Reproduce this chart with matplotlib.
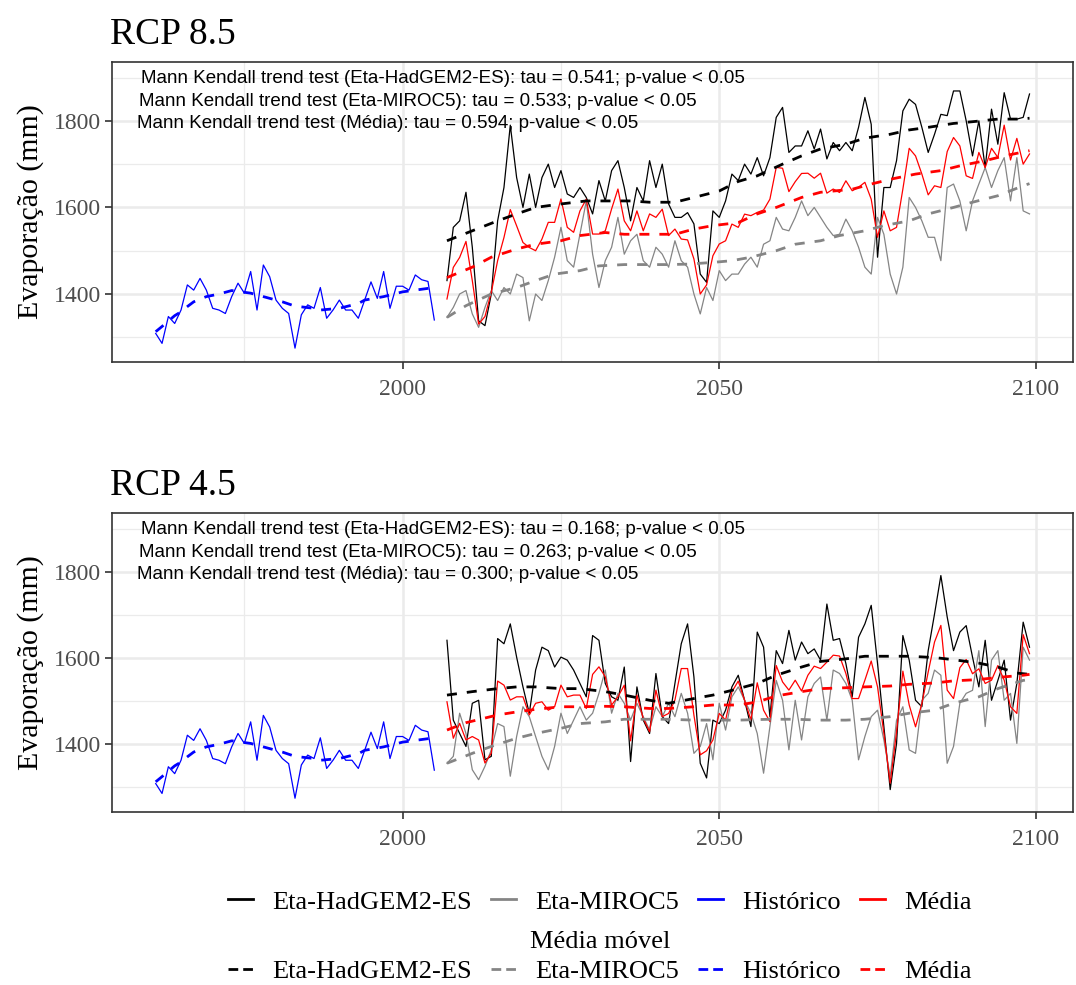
import numpy as np
import matplotlib.pyplot as plt
from matplotlib.lines import Line2D
from matplotlib.ticker import FixedLocator

plt.rcParams['font.family'] = ['Liberation Serif', 'DejaVu Serif']

# ---- data ----
years_hist = np.arange(1961, 2006)
years_proj = np.arange(2007, 2100)

historico = [1309, 1286, 1348, 1332, 1363, 1421, 1409, 1436, 1409, 1367,
             1363, 1355, 1394, 1425, 1402, 1452, 1363, 1467, 1440, 1386,
             1367, 1355, 1275, 1352, 1375, 1367, 1415, 1344, 1363, 1386,
             1363, 1363, 1344, 1386, 1428, 1390, 1452, 1367, 1418, 1418,
             1409, 1444, 1433, 1429, 1340]
mm_hist_yr = [1961, 1962, 1964, 1965, 1966, 1967, 1969, 1971, 1973, 1976, 1977, 1979,
              1981, 1983, 1986, 1987, 1990, 1993, 1994, 1997, 2000, 2003, 2005]
mm_hist = [1313, 1325, 1350, 1359, 1371, 1382, 1394, 1400, 1408, 1402, 1398, 1390,
           1382, 1372, 1367, 1363, 1367, 1378, 1386, 1394, 1405, 1411, 1415]

# RCP 8.5
had85 = [1431, 1554, 1569, 1635, 1508, 1338, 1327, 1400, 1569, 1646,
         1790, 1669, 1600, 1677, 1600, 1669, 1700, 1646, 1685, 1631,
         1623, 1646, 1623, 1585, 1662, 1615, 1685, 1708, 1646, 1569,
         1646, 1615, 1708, 1646, 1700, 1608, 1577, 1577, 1588, 1562,
         1446, 1427, 1592, 1577, 1615, 1677, 1662, 1700, 1677, 1715,
         1673, 1715, 1808, 1831, 1727, 1742, 1742, 1777, 1735, 1781,
         1712, 1750, 1731, 1750, 1731, 1785, 1854, 1792, 1485, 1646,
         1646, 1708, 1823, 1850, 1838, 1785, 1727, 1769, 1815, 1812,
         1869, 1869, 1800, 1719, 1800, 1692, 1827, 1746, 1865, 1804,
         1804, 1808, 1862]
mir85 = [1346, 1369, 1400, 1408, 1354, 1323, 1369, 1408, 1385, 1415,
         1400, 1446, 1438, 1338, 1400, 1385, 1431, 1485, 1554, 1477,
         1462, 1538, 1615, 1492, 1415, 1477, 1508, 1577, 1492, 1523,
         1538, 1477, 1462, 1508, 1492, 1462, 1523, 1477, 1462, 1400,
         1354, 1415, 1385, 1454, 1431, 1446, 1446, 1469, 1485, 1462,
         1515, 1523, 1577, 1550, 1546, 1577, 1615, 1581, 1600, 1577,
         1554, 1535, 1538, 1573, 1546, 1508, 1462, 1446, 1577, 1538,
         1446, 1400, 1462, 1623, 1600, 1569, 1531, 1531, 1477, 1646,
         1654, 1615, 1546, 1615, 1654, 1692, 1646, 1685, 1715, 1615,
         1715, 1592, 1585]
mm_had85_yr = [2007, 2011, 2015, 2018, 2021, 2025, 2029, 2032, 2036, 2039, 2043, 2046, 2050, 2053,
               2056, 2060, 2063, 2066, 2070, 2073, 2077, 2080, 2083, 2087, 2090, 2094, 2097, 2099]
mm_had85 = [1523, 1546, 1569, 1585, 1600, 1608, 1615, 1615, 1615, 1612, 1612, 1623, 1638, 1660,
            1673, 1700, 1719, 1735, 1746, 1760, 1769, 1779, 1785, 1794, 1798, 1804, 1804, 1806]
mm_mir85_yr = [2007, 2010, 2014, 2018, 2021, 2024, 2028, 2031, 2035, 2038, 2042, 2045, 2049, 2052,
               2055, 2059, 2062, 2066, 2069, 2073, 2076, 2080, 2083, 2087, 2090, 2094, 2098, 2099]
mm_mir85 = [1346, 1373, 1400, 1415, 1431, 1446, 1454, 1465, 1468, 1468, 1468, 1469, 1473, 1477,
            1485, 1500, 1515, 1523, 1535, 1546, 1558, 1569, 1585, 1600, 1612, 1627, 1650, 1655]
mm_med85_yr = [2007, 2011, 2014, 2018, 2021, 2025, 2028, 2032, 2035, 2039, 2043, 2046, 2049, 2053,
               2056, 2059, 2063, 2066, 2071, 2074, 2077, 2081, 2085, 2088, 2092, 2095, 2099]
mm_med85 = [1438, 1462, 1485, 1504, 1515, 1523, 1535, 1542, 1538, 1538, 1538, 1550, 1558, 1565,
            1585, 1600, 1623, 1635, 1642, 1654, 1665, 1677, 1685, 1696, 1708, 1719, 1731]
tau85 = ["0.541", "0.533", "0.594"]

# RCP 4.5
had45 = [1641, 1456, 1425, 1395, 1495, 1502, 1364, 1372, 1645, 1633,
         1679, 1602, 1533, 1472, 1572, 1625, 1617, 1579, 1602, 1595,
         1572, 1541, 1510, 1652, 1641, 1541, 1510, 1502, 1579, 1360,
         1533, 1456, 1425, 1564, 1464, 1448, 1541, 1633, 1679, 1556,
         1356, 1322, 1456, 1448, 1479, 1533, 1560, 1502, 1441, 1660,
         1625, 1464, 1617, 1587, 1664, 1595, 1637, 1610, 1621, 1595,
         1725, 1641, 1645, 1587, 1510, 1648, 1679, 1722, 1587, 1441,
         1295, 1402, 1652, 1595, 1502, 1487, 1617, 1702, 1791, 1695,
         1617, 1660, 1675, 1602, 1533, 1641, 1502, 1548, 1595, 1456,
         1541, 1683, 1625]
mir45 = [1356, 1372, 1472, 1425, 1341, 1318, 1349, 1387, 1448, 1441,
         1326, 1418, 1487, 1464, 1418, 1372, 1341, 1395, 1472, 1425,
         1456, 1487, 1456, 1472, 1518, 1572, 1472, 1518, 1495, 1456,
         1495, 1464, 1433, 1487, 1464, 1495, 1464, 1518, 1472, 1379,
         1395, 1448, 1364, 1495, 1433, 1510, 1533, 1502, 1472, 1425,
         1333, 1441, 1548, 1502, 1387, 1502, 1410, 1510, 1541, 1556,
         1456, 1572, 1564, 1541, 1502, 1364, 1418, 1464, 1479, 1410,
         1325, 1456, 1487, 1387, 1379, 1502, 1518, 1572, 1560, 1356,
         1395, 1495, 1518, 1525, 1617, 1441, 1595, 1617, 1502, 1518,
         1402, 1625, 1595]
mm_had45_yr = [2007, 2011, 2015, 2018, 2021, 2025, 2028, 2032, 2035, 2039, 2042, 2046, 2049, 2052,
               2056, 2059, 2063, 2066, 2070, 2073, 2077, 2080, 2084, 2087, 2091, 2094, 2097, 2099]
mm_had45 = [1514, 1522, 1529, 1533, 1533, 1529, 1529, 1522, 1514, 1502, 1495, 1506, 1514, 1525,
            1541, 1560, 1579, 1592, 1598, 1604, 1604, 1604, 1601, 1596, 1588, 1579, 1565, 1562]
mm_mir45_yr = [2007, 2011, 2014, 2018, 2021, 2025, 2028, 2032, 2035, 2039, 2042, 2046, 2049, 2053,
               2058, 2062, 2066, 2070, 2073, 2077, 2080, 2084, 2087, 2091, 2094, 2098, 2099]
mm_mir45 = [1356, 1379, 1395, 1414, 1425, 1437, 1448, 1452, 1458, 1458, 1458, 1456, 1456, 1456,
            1458, 1458, 1456, 1456, 1458, 1464, 1472, 1479, 1495, 1510, 1529, 1548, 1550]
mm_med45_yr = [2007, 2010, 2015, 2018, 2021, 2025, 2028, 2032, 2035, 2039, 2042, 2046, 2049, 2053,
               2056, 2059, 2063, 2066, 2070, 2073, 2077, 2080, 2084, 2087, 2091, 2094, 2098, 2099]
mm_med45 = [1433, 1450, 1468, 1475, 1481, 1487, 1487, 1488, 1487, 1483, 1483, 1487, 1491, 1491,
            1498, 1512, 1522, 1529, 1531, 1533, 1535, 1539, 1542, 1547, 1550, 1555, 1560, 1562]
tau45 = ["0.168", "0.263", "0.300"]

modelos = ["Eta-HadGEM2-ES", "Eta-MIROC5", "Média"]
legend_labels = ["Eta-HadGEM2-ES", "Eta-MIROC5", "Histórico", "Média"]
cores = ["black", "#858585", "blue", "red"]

SOLID_LW = 0.9
DASH_LW = 2.0


def painel(ax, titulo, had, mir, mm_had, mm_mir, mm_med, taus):
    media = (np.array(had) + np.array(mir)) / 2
    ax.plot(years_hist, historico, color="blue", lw=SOLID_LW)
    ax.plot(years_proj, had, color="black", lw=SOLID_LW)
    ax.plot(years_proj, mir, color=cores[1], lw=SOLID_LW)
    ax.plot(years_proj, media, color="red", lw=SOLID_LW)
    ax.plot(mm_hist_yr, mm_hist, color="blue", lw=DASH_LW, dashes=(3.6, 3.6))
    ax.plot(mm_had[0], mm_had[1], color="black", lw=DASH_LW, dashes=(3.6, 3.6))
    ax.plot(mm_mir[0], mm_mir[1], color=cores[1], lw=DASH_LW, dashes=(3.6, 3.6))
    ax.plot(mm_med[0], mm_med[1], color="red", lw=DASH_LW, dashes=(3.6, 3.6))

    for i, (nome, tau) in enumerate(zip(modelos, taus)):
        ax.text(1958.6 - 0.25 * i, 1897 - 52 * i,
                f"Mann Kendall trend test ({nome}): tau = {tau}; p-value < 0.05",
                family=["Liberation Sans", "DejaVu Sans"], fontsize=13.5,
                ha="left", va="center", color="black")

    ax.set_xlim(1954.1, 2105.9)
    ax.set_ylim(1243, 1936)
    ax.xaxis.set_major_locator(FixedLocator([2000, 2050, 2100]))
    ax.xaxis.set_minor_locator(FixedLocator([1975, 2025, 2075]))
    ax.yaxis.set_major_locator(FixedLocator([1400, 1600, 1800]))
    ax.yaxis.set_minor_locator(FixedLocator([1300, 1500, 1700, 1900]))
    ax.grid(which="major", color="#EBEBEB", lw=1.8)
    ax.grid(which="minor", color="#EBEBEB", lw=0.9)
    ax.set_axisbelow(True)
    ax.tick_params(which="major", length=5, width=1.2, color="#333333",
                   labelsize=17, labelcolor="#4D4D4D")
    ax.tick_params(axis="x", pad=7)
    ax.tick_params(axis="y", pad=3)
    ax.tick_params(which="minor", length=0)
    for s in ax.spines.values():
        s.set_color("#333333")
        s.set_linewidth(1.2)
    ax.set_ylabel("Evaporação (mm)", fontsize=21.5, labelpad=7)
    ax.set_title(titulo, fontsize=27, loc="left", x=-0.002, pad=13)


fig = plt.figure(figsize=(10.76, 9.85), dpi=100)
ax1 = fig.add_axes([0.1041, 0.6325, 0.8933, 0.3046])
ax2 = fig.add_axes([0.1041, 0.1756, 0.8933, 0.3036])

painel(ax1, "RCP 8.5", had85, mir85, (mm_had85_yr, mm_had85), (mm_mir85_yr, mm_mir85),
       (mm_med85_yr, mm_med85), tau85)
painel(ax2, "RCP 4.5", had45, mir45, (mm_had45_yr, mm_had45), (mm_mir45_yr, mm_mir45),
       (mm_med45_yr, mm_med45), tau45)

h_solid = [Line2D([], [], color=c, lw=2.0) for c in cores]
h_dash = [Line2D([], [], color=c, lw=2.0, dashes=(3.5, 1.8)) for c in cores]
leg_kw = dict(ncol=4, frameon=False, fontsize=19, handlelength=0.95,
              handletextpad=0.75, columnspacing=0.7, loc="center")
fig.legend(h_solid, legend_labels, bbox_to_anchor=(0.5575, 0.0843), **leg_kw)
fig.legend(h_dash, legend_labels, bbox_to_anchor=(0.5575, 0.0142), **leg_kw)
fig.text(0.5575, 0.0437, "Média móvel", ha="center", va="center", fontsize=19)

fig.savefig("out.png", dpi=100)
